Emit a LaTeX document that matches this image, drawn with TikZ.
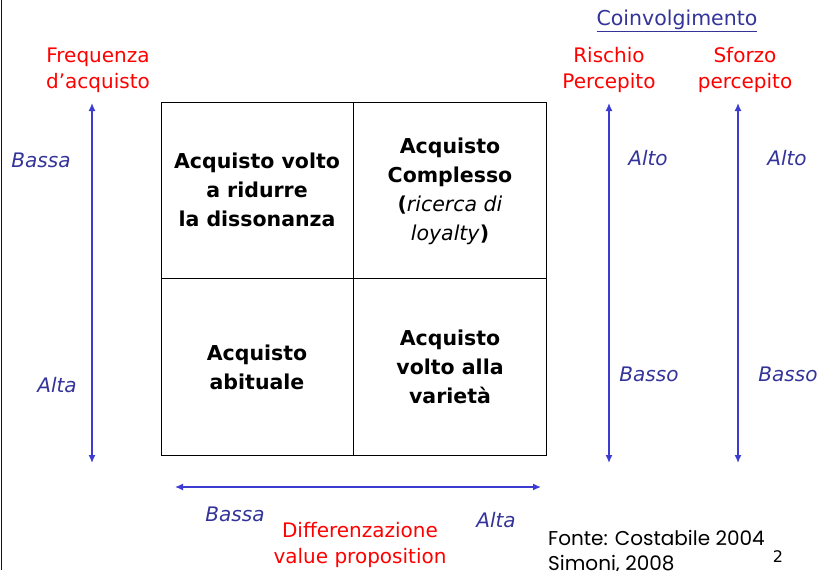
\documentclass[tikz,border=0pt]{standalone}
\usepackage{fontspec}
\setmainfont{DejaVu Sans}
\newfontfamily\sourcefont{Poppins}
\usetikzlibrary{arrows.meta}

\definecolor{axisred}{RGB}{255,0,0}
\definecolor{axisblue}{RGB}{51,51,153}
\definecolor{arrowblue}{RGB}{60,60,210}

\begin{document}
\begin{tikzpicture}[x = 1pt, y = -1pt]
	\tikzstyle{cellStyle} = [align = center, font = \fontsize{20.5}{29}\selectfont\bfseries]
	\tikzstyle{axisStyle} = [align = center, text = axisred, font = \fontsize{20}{26}\selectfont]
	\tikzstyle{levelStyle} = [text = axisblue, font = \fontsize{20}{22}\selectfont\itshape]
	\tikzstyle{arrowStyle} = [draw = arrowblue, line width = 1.4pt, {Latex[length = 8pt, width = 7pt]}-{Latex[length = 8pt, width = 7pt]}]
	\useasboundingbox (0,0) rectangle (821,570);
	\draw[line width = 1pt, black!80!teal] (1,0) -- (1,570);
	% matrix
	\draw[line width = 1pt] (161,102) rectangle (546,455);
	\draw[line width = 1pt] (353,102) -- (353,455);
	\draw[line width = 1pt] (161,278) -- (546,278);
	\node[cellStyle] (c11) at (257,190) {Acquisto volto\\a ridurre\\la dissonanza};
	\node[cellStyle] (c12) at (450,191) {Acquisto\\Complesso\\(\textmd{\itshape ricerca di}\\\textmd{\itshape loyalty})};
	\node[cellStyle] (c21) at (257,367) {Acquisto\\abituale};
	\node[cellStyle] (c22) at (450,367) {Acquisto\\volto alla\\variet\`a};
	% axis on the left
	\node[axisStyle] (freq) at (98,70) {Frequenza\\d'acquisto};
	\coordinate (fTop) at (92,103);
	\coordinate (fBot) at (92,463);
	\draw[arrowStyle] (fBot) -- (fTop);
	\node[levelStyle] (fLow) at (41,160) {Bassa};
	\node[levelStyle] (fHigh) at (57,385) {Alta};
	% axis at the bottom
	\coordinate (dLeft) at (175,487);
	\coordinate (dRight) at (541,487);
	\draw[arrowStyle] (dLeft) -- (dRight);
	\node[levelStyle] (dLow) at (235,514) {Bassa};
	\node[levelStyle] (dHigh) at (496,520) {Alta};
	\node[axisStyle] (diff) at (360,545) {Differenzazione\\value proposition};
	% axes on the right
	\node[text = axisblue, font = \fontsize{20.5}{22}\selectfont] (coinv) at (677,21) {\underline{Coinvolgimento}};
	\node[axisStyle] (risk) at (609,70) {Rischio\\Percepito};
	\node[axisStyle] (effort) at (745,70) {Sforzo\\percepito};
	\coordinate (rTop) at (609,103);
	\coordinate (rBot) at (609,463);
	\coordinate (sTop) at (738,103);
	\coordinate (sBot) at (738,463);
	\draw[arrowStyle] (rBot) -- (rTop);
	\draw[arrowStyle] (sBot) -- (sTop);
	\node[levelStyle] (rHigh) at (648,158) {Alto};
	\node[levelStyle] (rLow) at (649,374) {Basso};
	\node[levelStyle] (sHigh) at (787,158) {Alto};
	\node[levelStyle] (sLow) at (788,374) {Basso};
	% source
	\node[anchor = north west, align = left, inner sep = 0pt, font = \sourcefont\fontsize{20}{25}\selectfont] (src) at (548,530) {Fonte: Costabile 2004\\Simoni, 2008};
	\node[font = \fontsize{16}{18}\selectfont] (page) at (778,557) {2};
\end{tikzpicture}
\end{document}
